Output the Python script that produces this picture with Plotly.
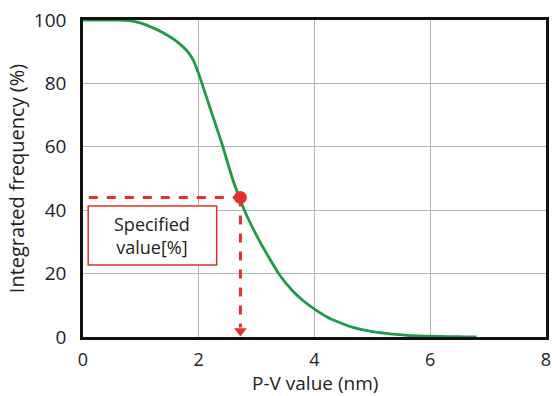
import plotly.graph_objects as go

pv_nm = [0, 0.2, 0.4, 0.6, 0.8, 1.0, 1.2, 1.4, 1.6, 1.7, 1.8, 1.9, 2.0, 2.1, 2.2, 2.4, 2.6, 2.8,
         3.0, 3.2, 3.4, 3.6, 3.8, 4.0, 4.2, 4.4, 4.6, 4.8, 5.0, 5.2, 5.4, 5.6, 5.8,
         6.0, 6.2, 6.4, 6.6, 6.8]
freq_pct = [100, 100, 100, 100, 99.8, 99, 97.6, 95.8, 93.5, 92, 90.2, 87.5, 83, 77.5, 72, 61, 49, 39.5,
            32, 25.5, 19.5, 15, 11.5, 8.8, 6.5, 4.8, 3.4, 2.4, 1.7, 1.2, 0.8, 0.5, 0.35,
            0.25, 0.15, 0.1, 0.05, 0]
spec_x = 2.72
spec_y = 44
x_ticks = [0, 2, 4, 6, 8]
y_ticks = [0, 20, 40, 60, 80, 100]

RED = "#e03030"
GREEN = "#1e9a48"
FONT = "Open Sans"
TXT = "#222222"

fig = go.Figure()
fig.add_trace(go.Scatter(x=pv_nm, y=freq_pct, mode="lines",
                         line=dict(color=GREEN, width=2.8, shape="spline", smoothing=0.6),
                         hoverinfo="skip"))
# dashed guide lines
fig.add_trace(go.Scatter(x=[0.1, spec_x], y=[spec_y, spec_y], mode="lines",
                         line=dict(color=RED, width=3, dash="dash")))
fig.add_trace(go.Scatter(x=[spec_x, spec_x], y=[spec_y, 3], mode="lines",
                         line=dict(color=RED, width=3, dash="dash")))
fig.add_trace(go.Scatter(x=[spec_x], y=[1.9], mode="markers",
                         marker=dict(symbol="triangle-down", size=11, color=RED)))
fig.add_trace(go.Scatter(x=[spec_x], y=[spec_y], mode="markers",
                         marker=dict(symbol="circle", size=13, color=RED)))

fig.add_shape(type="rect", x0=0.09, x1=2.31, y0=22.7, y1=41.3,
              line=dict(color=RED, width=1.5), fillcolor="white", layer="above")
fig.add_annotation(x=1.2, y=32, text="Specified<br>value[%]", showarrow=False,
                   font=dict(family=FONT, size=18, color=TXT), align="center")
# x-axis title
fig.add_annotation(x=0.5, y=0, xref="paper", yref="paper", yanchor="middle",
                   yshift=-46, text="P-V value (nm)", showarrow=False,
                   font=dict(family=FONT, size=19, color=TXT))

axis_common = dict(showline=True, linecolor="#111111", linewidth=2.5, mirror=True,
                   showgrid=True, gridcolor="#b4b4b4", gridwidth=1, zeroline=False,
                   automargin=False, ticks="")
fig.update_xaxes(range=[0, 8], tickvals=x_ticks, ticklabelstandoff=5,
                 tickfont=dict(family=FONT, size=18, color=TXT), **axis_common)
fig.update_yaxes(range=[0, 100], tickvals=y_ticks, ticklabelstandoff=10,
                 tickfont=dict(family=FONT, size=19, color=TXT),
                 title=dict(text="Integrated frequency (%)", font=dict(family=FONT, size=20, color=TXT), standoff=4),
                 **axis_common)
fig.update_layout(width=552, height=396, margin=dict(l=83, r=6, t=20, b=59),
                  paper_bgcolor="white", plot_bgcolor="white", showlegend=False)
fig.write_html("out.html")
